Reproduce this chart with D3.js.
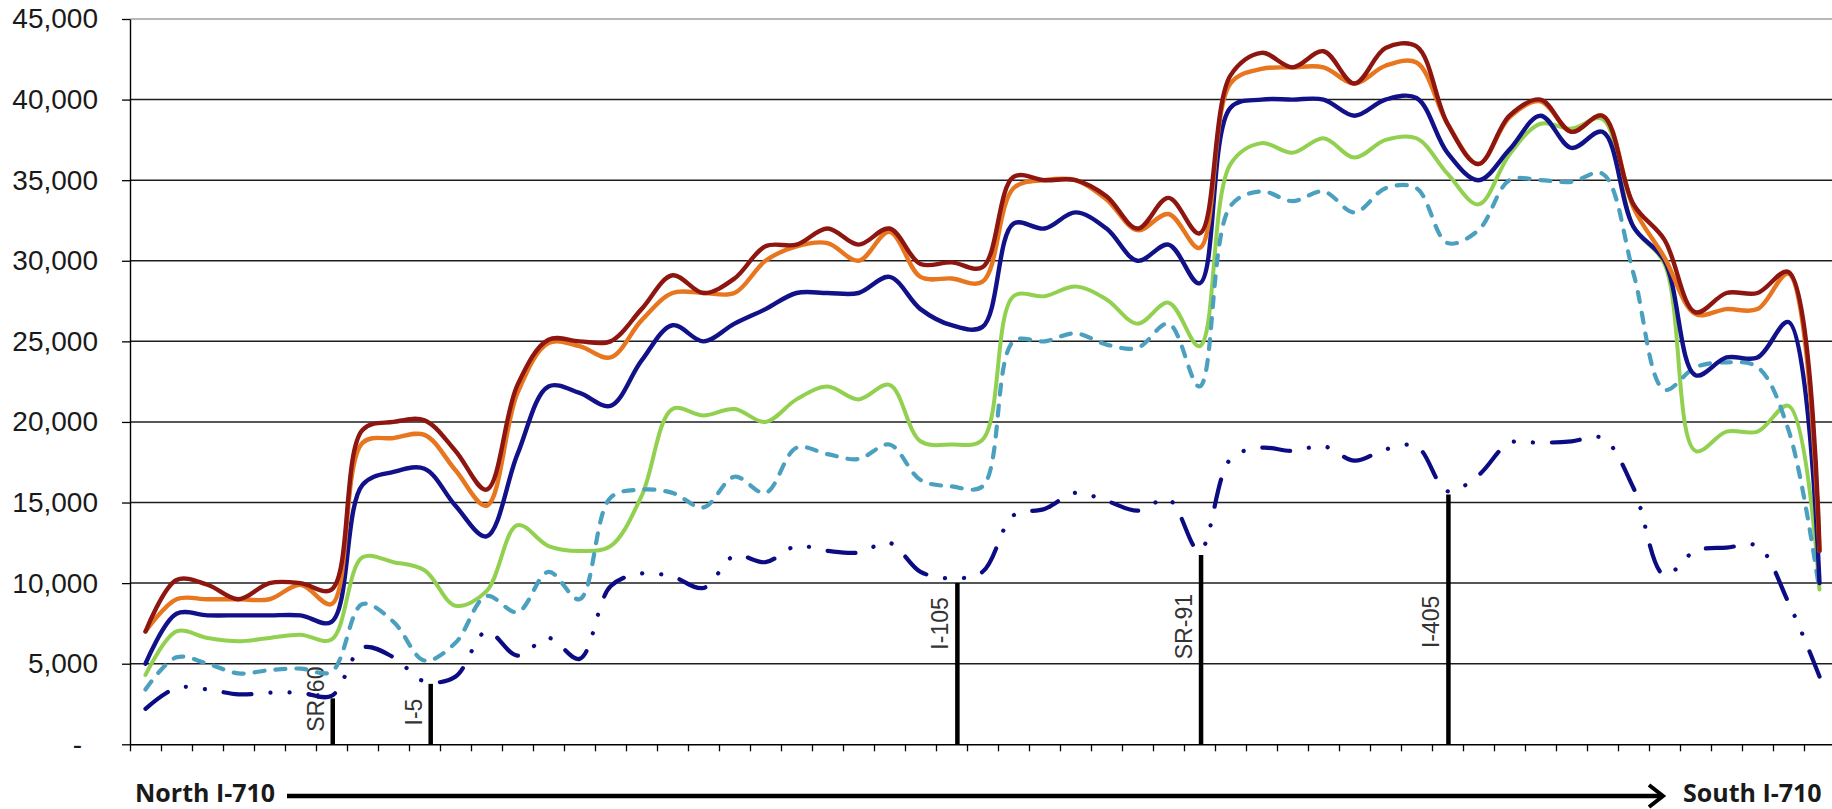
<!DOCTYPE html>
<html>
<head>
<meta charset="utf-8">
<script src="https://cdn.jsdelivr.net/npm/d3@7"></script>
<style>
  html, body { margin: 0; padding: 0; background: #fff; }
  svg { display: block; }
</style>
</head>
<body>
<svg id="chart" width="1832" height="809"></svg>
<script>
// ---------- DATA ----------
// Corridor segments, North (left) to South (right)
const categories = Array.from({length: 55}, (_, i) => i + 1);

const yTicks = [0, 5000, 10000, 15000, 20000, 25000, 30000, 35000, 40000, 45000];

const seriesDarkRed = [7000,10200,9900,9000,10000,10000,9600,19500,20000,20100,
  18200,15800,22300,25100,25000,25000,27000,29100,28000,28900,
  30900,31000,32000,31000,32000,29800,29900,29600,35200,35000,
  35000,34000,32000,33900,31700,41500,42900,42000,43000,41000,
  43200,43300,38500,36000,39000,40000,38000,39000,33500,31300,
  26800,28000,28000,29300,12000];

const seriesOrange = [7000,9000,9000,9000,9000,9900,8700,18700,19000,19200,
  17000,14800,21800,24900,24700,24000,26300,28000,28000,28000,
  30000,30900,31100,30000,31800,29000,28900,28700,34500,35000,
  35000,33800,31900,32900,30800,41000,41900,42000,42000,41000,
  42100,42300,38500,36000,38900,39900,38000,39000,33300,30200,
  26700,27000,27000,29200,12000];

const seriesBlue = [5000,8100,8000,8000,8000,8000,7600,16100,16900,17100,
  14800,12900,18000,22200,21800,21000,23800,26000,25000,26100,
  27000,28000,28000,28000,29000,27000,26000,25900,32300,32000,
  33000,32000,30000,31000,28600,39500,40000,40000,40000,39000,
  40000,40100,36700,35000,36900,39000,37000,38000,32100,30000,
  22900,24000,24000,26200,10000];

const seriesGreen = [4300,7000,6600,6400,6600,6800,6500,11600,11300,10800,
  8600,9500,13600,12300,12000,12300,15400,20800,20400,20800,
  20000,21400,22200,21400,22300,18800,18600,18900,27800,27800,
  28400,27600,26100,27400,24700,36000,37300,36700,37600,36400,
  37500,37600,35400,33500,36600,38500,38200,38800,32100,29800,
  18200,19400,19400,21000,9600];

const seriesTeal = [3400,5400,5000,4400,4600,4700,4500,8700,7600,5200,
  6300,9200,8200,10700,9000,15300,15800,15600,14700,16600,
  15600,18400,18000,17700,18600,16400,16000,16000,25000,25000,
  25500,24800,24600,26100,22200,33400,34300,33700,34300,33000,
  34500,34500,31100,31900,35000,35000,34900,35400,29200,22000,
  23400,23700,23400,19500,9500];

const seriesNavyDashDot = [2200,3500,3400,3100,3200,3200,3000,6000,5400,3900,
  4200,7000,5500,6600,5300,9800,10600,10400,9700,11700,
  11300,12300,12000,11900,12500,10700,10300,10700,14200,14600,
  15600,15100,14500,15200,12000,17700,18400,18200,18500,17600,
  18300,18500,15700,16700,18700,18700,18800,19000,15900,10500,
  12000,12200,12300,8800,4200];

// Interchanges (vertical markers): name, location (segment index), marker height, label centre value
const interchangeNames = ["SR-60", "I-5", "I-105", "SR-91", "I-405"];
const interchangeAt = [6.04, 9.2, 26.19, 34.05, 42.03];
const interchangeHeight = [2850, 3750, 10000, 11750, 15500];
const interchangeLabelAt = [2800, 2000, 7500, 7300, 7600];

const startLabel = "North I-710";
const endLabel = "South I-710";

// ---------- STYLE ----------
const seriesList = [
  {values: seriesNavyDashDot, color: "#0b0b84", width: 4.2, dash: "28 19 0.1 19 0.1 19", cap: "round"},
  {values: seriesGreen,       color: "#92d050", width: 4, dash: null, cap: "round"},
  {values: seriesTeal,        color: "#4aa0be", width: 4.2, dash: "10 11", cap: "round"},
  {values: seriesBlue,        color: "#11118a", width: 4.4, dash: null, cap: "round"},
  {values: seriesOrange,      color: "#e8761e", width: 4.4, dash: null, cap: "round"},
  {values: seriesDarkRed,     color: "#8e1610", width: 4.4, dash: null, cap: "round"}
];

// ---------- LAYOUT ----------
const svg = d3.select("#chart");
const plotLeft = 130, plotRight = 1835, plotTop = 19, plotBottom = 744.3;

const x = d3.scaleLinear()
  .domain([-0.5, categories.length - 0.5])
  .range([plotLeft, plotRight]);
const y = d3.scaleLinear()
  .domain([0, 45000])
  .range([plotBottom, plotTop]);

// gridlines
svg.append("g").selectAll("line")
  .data(yTicks.filter(v => v > 0))
  .join("line")
  .attr("x1", plotLeft).attr("x2", plotRight)
  .attr("y1", d => y(d)).attr("y2", d => y(d))
  .attr("stroke", d => d === 45000 ? "#a0a0a0" : "#1e1e1e")
  .attr("stroke-width", 1.5);

// y axis
const yAxis = svg.append("g")
  .attr("transform", `translate(${plotLeft},0)`)
  .call(d3.axisLeft(y).tickValues(yTicks).tickSize(8).tickSizeOuter(0).tickPadding(24)
    .tickFormat(v => v === 0 ? "-" : d3.format(",")(v)));
yAxis.select(".domain").attr("stroke", "#000").attr("stroke-width", 1.4);
yAxis.selectAll(".tick line").attr("stroke", "#000").attr("stroke-width", 1.3);
yAxis.selectAll(".tick text")
  .attr("font-family", "'Liberation Sans', Arial, sans-serif")
  .attr("font-size", 28)
  .attr("fill", "#1a1a1a")
  .attr("dx", d => d === 0 ? -16 : 0);

// x axis (category boundaries, no labels)
const boundaries = categories.map((c, i) => i - 0.5).concat([categories.length - 0.5]);
const xAxis = svg.append("g")
  .attr("transform", `translate(0,${plotBottom})`)
  .call(d3.axisBottom(x).tickValues(boundaries).tickSize(7).tickSizeOuter(0).tickFormat(""));
xAxis.select(".domain").attr("stroke", "#000").attr("stroke-width", 1.4);
xAxis.selectAll(".tick line").attr("stroke", "#000").attr("stroke-width", 1.3);

// interchange markers
const marks = svg.append("g");
marks.selectAll("line")
  .data(interchangeNames)
  .join("line")
  .attr("x1", (d, i) => x(interchangeAt[i])).attr("x2", (d, i) => x(interchangeAt[i]))
  .attr("y1", y(0)).attr("y2", (d, i) => y(interchangeHeight[i]))
  .attr("stroke", "#000").attr("stroke-width", 4.5);
marks.selectAll("text")
  .data(interchangeNames)
  .join("text")
  .attr("transform", (d, i) => `translate(${x(interchangeAt[i]) - 9},${y(interchangeLabelAt[i])}) rotate(-90)`)
  .attr("text-anchor", "middle")
  .attr("font-family", "'Liberation Sans', Arial, sans-serif")
  .attr("font-size", 23)
  .attr("fill", "#333")
  .text(d => d);

// series lines (smoothed)
const line = d3.line()
  .x((d, i) => x(i))
  .y(d => y(d))
  .curve(d3.curveCatmullRom.alpha(0.5));

svg.append("g").selectAll("path")
  .data(seriesList)
  .join("path")
  .attr("d", s => line(s.values))
  .attr("fill", "none")
  .attr("stroke", s => s.color)
  .attr("stroke-width", s => s.width)
  .attr("stroke-linecap", s => s.cap)
  .attr("stroke-linejoin", "round")
  .attr("stroke-dasharray", s => s.dash);

// direction annotation
const ann = svg.append("g");
ann.append("text")
  .attr("x", 135).attr("y", 802)
  .attr("font-family", "'Open Sans', sans-serif")
  .attr("font-weight", "bold")
  .attr("font-size", 25)
  .attr("fill", "#1a1a1a")
  .text(startLabel);
ann.append("line")
  .attr("x1", 287).attr("x2", 1662)
  .attr("y1", 796).attr("y2", 796)
  .attr("stroke", "#000").attr("stroke-width", 4.5);
ann.append("polyline")
  .attr("points", "1649,785 1663,796 1649,807")
  .attr("fill", "none").attr("stroke", "#000").attr("stroke-width", 4)
  .attr("stroke-linejoin", "miter");
ann.append("text")
  .attr("x", 1683).attr("y", 802)
  .attr("font-family", "'Open Sans', sans-serif")
  .attr("font-weight", "bold")
  .attr("font-size", 25)
  .attr("fill", "#1a1a1a")
  .text(endLabel);
</script>
</body>
</html>
